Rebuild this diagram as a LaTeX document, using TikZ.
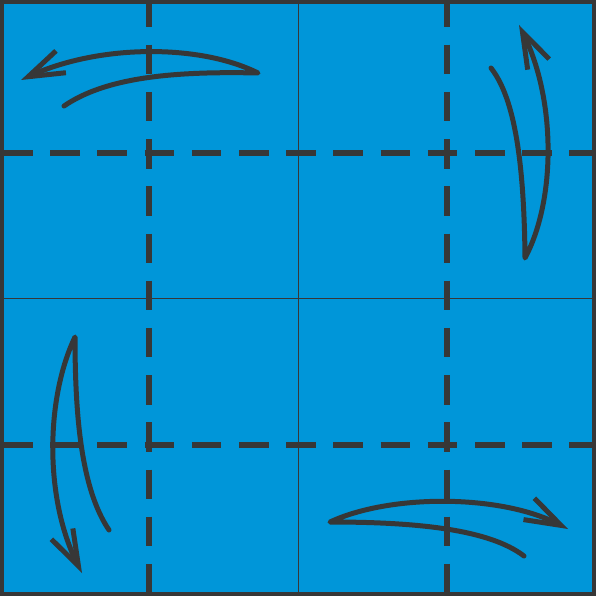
\documentclass[tikz,border=0pt]{standalone}
\usetikzlibrary{arrows.meta}
\definecolor{paper}{RGB}{0,150,217}
\definecolor{ink}{RGB}{55,55,55}
\begin{document}
\begin{tikzpicture}[x=1pt,y=-1pt,
    crease/.style ={ink, line width=5.5pt, dash pattern=on 29.5pt off 17.7pt},
    middle/.style ={ink, line width=0.8pt},
    turn/.style ={ink, line width=5pt, line join=round, line cap=round,
                  -{Straight Barb[length=36pt,width=24pt]}}]
   \useasboundingbox (0,0) rectangle (596,596);
   \fill[paper] (0,0) rectangle (596,596);

   \draw[middle] (298,0) -- (298,596);
   \draw[middle] (0,298) -- (596,298);

   \begin{scope}
   \clip (0,0) rectangle (596,596);
   \draw[crease] (149,-2.5) -- (149,596);
   \draw[crease] (447,-2.5) -- (447,596);
   \draw[crease] (3,153) -- (596,153);
   \draw[crease] (3,445) -- (596,445);
   \end{scope}

   \draw[ink, line width=4pt] (2,2) rectangle (594,594);

   \draw[turn] (64,106) .. controls (105,78) and (170,71) .. (258,73)
       .. controls (200,44) and (100,44) .. (21,80);
   \draw[turn] (491,68) .. controls (512,95) and (524,150) .. (525,258)
       .. controls (556,200) and (556,100) .. (519,25);
   \draw[turn] (109,530) .. controls (82,490) and (75,420) .. (75,337)
       .. controls (45,400) and (45,500) .. (82,573);
   \draw[turn] (524,556) .. controls (490,530) and (420,522) .. (330,522)
       .. controls (390,494) and (500,494) .. (568,529);
\end{tikzpicture}
\end{document}
